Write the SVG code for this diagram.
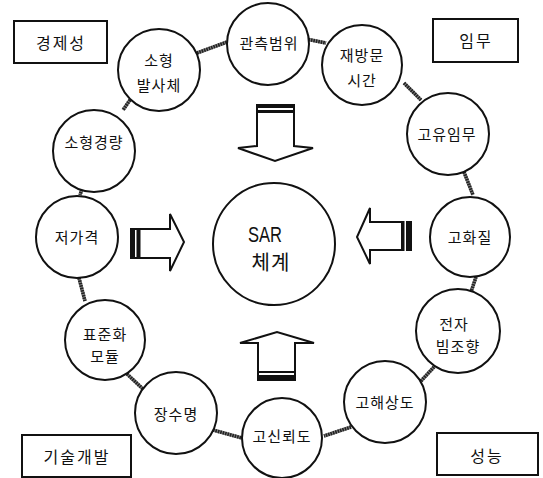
<svg xmlns="http://www.w3.org/2000/svg" width="543" height="478" viewBox="0 0 543 478">
  <style>
    .bg { fill: #ffffff; }
    .node circle { fill: #ffffff; stroke: #111111; stroke-width: 2; }
    .box rect { fill: #ffffff; stroke: #111111; stroke-width: 2; }
    text { font-family: "Noto Sans CJK KR", "Noto Sans", sans-serif; fill: #111111; text-anchor: middle; font-size: 15px; letter-spacing: 1px; }
    .box text { font-size: 16px; letter-spacing: 2px; }
    .center text { font-size: 20px; letter-spacing: 1px; }
    .center .latin { font-family: "Liberation Sans", "DejaVu Sans", sans-serif; font-size: 22px; letter-spacing: 0; }
    .links .base { stroke: #888888; stroke-width: 3.5; stroke-linecap: butt; }
    .links .hatch { stroke: #222222; stroke-width: 3.5; stroke-dasharray: 1.6 0.9; stroke-linecap: butt; }
    .arrow path { fill: #ffffff; stroke: #111111; stroke-width: 2; stroke-linejoin: miter; }
    .arrow rect { fill: #111111; }
  </style>

  <defs>
    <!-- connector segments, each drawn twice (grey base + dark hatch) -->
    <line id="c1" x1="197" y1="53" x2="227" y2="42"/>
    <line id="c2" x1="306" y1="39" x2="326" y2="43"/>
    <line id="c3" x1="404" y1="83" x2="421" y2="100"/>
    <line id="c4" x1="464" y1="172" x2="473" y2="195"/>
    <line id="c5" x1="476" y1="277" x2="471" y2="292"/>
    <line id="c6" x1="434" y1="367" x2="421" y2="381"/>
    <line id="c7" x1="351" y1="427" x2="324" y2="436"/>
    <line id="c8" x1="213" y1="430" x2="242" y2="438"/>
    <line id="c9" x1="127" y1="374" x2="143" y2="389"/>
    <line id="c10" x1="79" y1="278" x2="85" y2="301"/>
    <line id="c11" x1="85" y1="180" x2="80" y2="195"/>
    <line id="c12" x1="130" y1="100" x2="123" y2="110"/>
  </defs>

  <rect class="bg" x="0" y="0" width="543" height="478"/>

  <!-- category boxes -->
  <g id="box-economy" class="box">
    <rect x="14" y="21" width="93" height="42"/>
    <text x="61" y="49">경제성</text>
  </g>
  <g id="box-mission" class="box">
    <rect x="433" y="19" width="85" height="43"/>
    <text x="476" y="47">임무</text>
  </g>
  <g id="box-tech" class="box">
    <rect x="22" y="435" width="109" height="42"/>
    <text x="77" y="463">기술개발</text>
  </g>
  <g id="box-performance" class="box">
    <rect x="437" y="433" width="101" height="42"/>
    <text x="487" y="462">성능</text>
  </g>

  <!-- ring connectors between neighbouring nodes -->
  <g id="connectors" class="links">
    <g class="base">
      <use href="#c1"/><use href="#c2"/><use href="#c3"/><use href="#c4"/>
      <use href="#c5"/><use href="#c6"/><use href="#c7"/><use href="#c8"/>
      <use href="#c9"/><use href="#c10"/><use href="#c11"/><use href="#c12"/>
    </g>
    <g class="hatch">
      <use href="#c1"/><use href="#c2"/><use href="#c3"/><use href="#c4"/>
      <use href="#c5"/><use href="#c6"/><use href="#c7"/><use href="#c8"/>
      <use href="#c9"/><use href="#c10"/><use href="#c11"/><use href="#c12"/>
    </g>
  </g>

  <!-- ring nodes -->
  <g id="node-coverage" class="node">
    <circle cx="268" cy="44" r="41"/>
    <text x="269" y="49">관측범위</text>
  </g>
  <g id="node-revisit" class="node">
    <circle cx="362" cy="65" r="40"/>
    <text x="362" y="61">재방문</text>
    <text x="362" y="86">시간</text>
  </g>
  <g id="node-mission" class="node">
    <circle cx="448" cy="134" r="41"/>
    <text x="447" y="140">고유임무</text>
  </g>
  <g id="node-quality" class="node">
    <circle cx="470" cy="237" r="40"/>
    <text x="470" y="243">고화질</text>
  </g>
  <g id="node-beam" class="node">
    <circle cx="458" cy="331" r="42"/>
    <text x="454" y="330">전자</text>
    <text x="458" y="352">빔조향</text>
  </g>
  <g id="node-resolution" class="node">
    <circle cx="385" cy="402" r="41"/>
    <text x="385" y="408">고해상도</text>
  </g>
  <g id="node-reliability" class="node">
    <circle cx="282" cy="438" r="40"/>
    <text x="282" y="442">고신뢰도</text>
  </g>
  <g id="node-lifetime" class="node">
    <circle cx="176" cy="413" r="41"/>
    <text x="176" y="420">장수명</text>
  </g>
  <g id="node-module" class="node">
    <circle cx="105" cy="340" r="40"/>
    <text x="105" y="340">표준화</text>
    <text x="105" y="362">모듈</text>
  </g>
  <g id="node-lowcost" class="node">
    <circle cx="77" cy="237" r="41"/>
    <text x="77" y="243">저가격</text>
  </g>
  <g id="node-light" class="node">
    <circle cx="94" cy="151" r="41"/>
    <text x="94" y="148">소형경량</text>
  </g>
  <g id="node-launcher" class="node">
    <circle cx="159" cy="70" r="41"/>
    <text x="159" y="66">소형</text>
    <text x="159" y="91">발사체</text>
  </g>

  <!-- central system -->
  <g id="node-sar" class="node center">
    <circle cx="274" cy="244" r="61"/>
    <text class="latin" x="265" y="242" textLength="34" lengthAdjust="spacingAndGlyphs">SAR</text>
    <text x="271" y="270">체계</text>
  </g>

  <!-- block arrows pointing at the central system -->
  <g id="arrow-top" class="arrow">
    <path d="M257,105 L294,105 L294,146 L313,148 L275,161 L238,148 L257,146 Z"/>
    <rect x="256" y="104" width="39" height="4"/>
    <rect x="258" y="110" width="36" height="3"/>
  </g>
  <g id="arrow-left" class="arrow">
    <path d="M131,229 L170,229 L170,214 L184,242 L170,271 L170,258 L131,258 Z"/>
    <rect x="130" y="228" width="5" height="31"/>
    <rect x="136.5" y="228" width="4" height="31"/>
  </g>
  <g id="arrow-right" class="arrow">
    <path d="M402,222 L370,222 L370,208 L357,237 L370,264 L370,250 L402,250 Z"/>
    <rect x="402" y="221" width="2.5" height="30"/>
    <rect x="406" y="221" width="6" height="30"/>
  </g>
  <g id="arrow-bottom" class="arrow">
    <path d="M258,380 L258,343 L240,343 L277,332 L314,343 L295,343 L295,380 Z"/>
    <rect x="258" y="371" width="37" height="2"/>
    <rect x="257" y="375" width="39" height="5"/>
  </g>
</svg>
